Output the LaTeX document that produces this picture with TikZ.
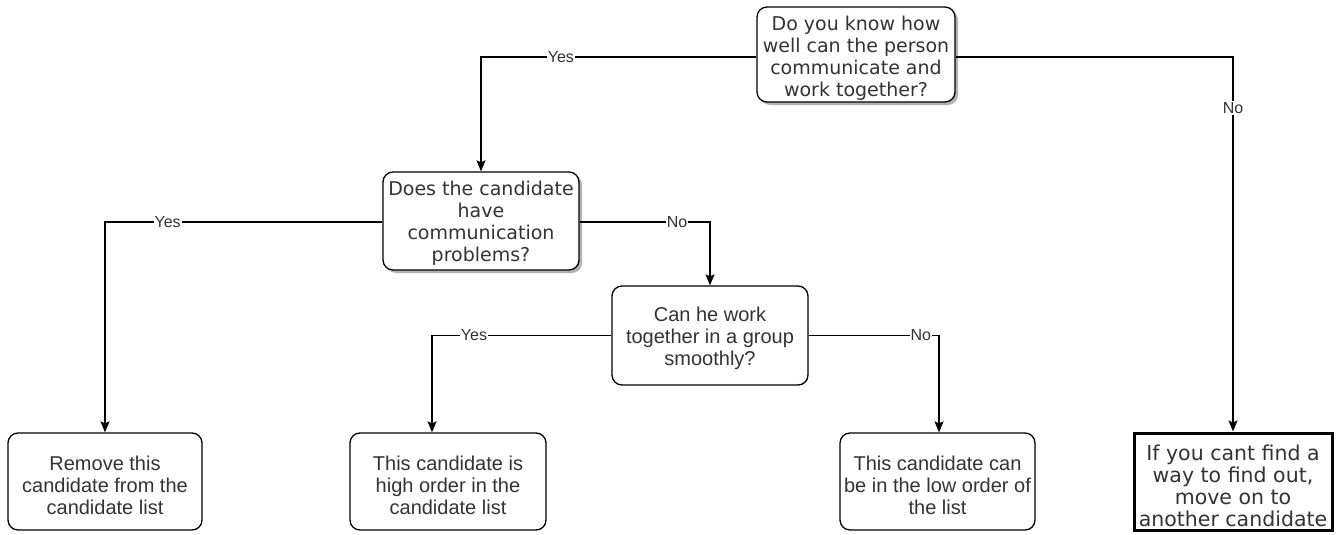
\documentclass[tikz,border=0pt]{standalone}
\usepackage{fontspec}
\setmainfont{Liberation Sans}
\newfontfamily\tahfont{DejaVu Sans}
\usetikzlibrary{arrows.meta,shadows}
\definecolor{txt}{HTML}{333333}
\tikzset{
  x=1pt, y=-1pt,
  base/.style={draw=black, line width=1.3pt, fill=white, inner sep=0pt},
  roundbox/.style={base, rounded corners=10pt},
  % box captions sit slightly below the geometric centre
  caption/.style={text=txt, align=center, inner sep=0pt, yshift=#1},
  caption/.default=-4pt,
  qfont/.style={font=\tahfont\fontsize{19}{22}\selectfont},
  efont/.style={font=\tahfont\fontsize{20.5}{22}\selectfont},
  afont/.style={font=\fontsize{20}{22}\selectfont},
  shadowed/.style={drop shadow={shadow xshift=3pt, shadow yshift=-3pt,
    fill=black, opacity=0.3}},
  endbox/.style={base, line width=3pt, rounded corners=0pt},
  arr/.style={draw=black, line width=1.3pt,
    -{Stealth[length=11pt,width=9pt,inset=2pt]}},
  lbl/.style={fill=white, text=txt, inner sep=1pt,
    font=\fontsize{16}{18}\selectfont}
}
\begin{document}
\begin{tikzpicture}
\useasboundingbox (0,0) rectangle (1338,535);

% decision nodes
\node[roundbox, shadowed, minimum width=198pt, minimum height=95pt,
  label={[caption, qfont]center:{Do you know how\\well can the person\\communicate and\\work together?}}]
  (know) at (856,54.5) {};
\node[roundbox, shadowed, minimum width=196pt, minimum height=98pt,
  label={[caption=-2pt, qfont]center:{Does the candidate\\have\\communication\\problems?}}]
  (comm) at (481,221) {};
\node[roundbox, minimum width=196pt, minimum height=99pt,
  label={[caption=-3pt, afont]center:{Can he work\\together in a group\\smoothly?}}]
  (group) at (710,335.5) {};

% outcome nodes
\node[roundbox, minimum width=194pt, minimum height=97pt,
  label={[caption, afont]center:{Remove this\\candidate from the\\candidate list}}]
  (remove) at (105,481.5) {};
\node[roundbox, minimum width=196pt, minimum height=97pt,
  label={[caption, afont]center:{This candidate is\\high order in the\\candidate list}}]
  (high) at (448,481.5) {};
\node[roundbox, minimum width=195pt, minimum height=97pt,
  label={[caption, afont]center:{This candidate can\\be in the low order of\\the list}}]
  (low) at (937.5,481.5) {};
\node[endbox, minimum width=198pt, minimum height=97pt,
  label={[caption, efont]center:{If you cant find a\\way to find out,\\move on to\\another candidate}}]
  (move) at (1233,481.5) {};

% connectors
\draw[arr] ([yshift=-2.5pt]know.west) -| node[lbl, pos=0.355] {Yes} (comm.north);
\draw[arr] ([yshift=-2.5pt]know.east) -| node[lbl, pos=0.568] {No} (move.north);
\draw[arr] ([yshift=-1pt]comm.west) -| node[lbl, pos=0.387] {Yes} (remove.north);
\draw[arr] ([yshift=-1pt]comm.east) -| node[lbl, pos=0.374] {No} (group.north);
\draw[arr] (group.west) -| node[lbl, pos=0.383] {Yes} ([xshift=-16pt]high.north);
\draw[arr] (group.east) -| node[lbl, pos=0.43] {No} ([xshift=1.5pt]low.north);
\end{tikzpicture}
\end{document}
